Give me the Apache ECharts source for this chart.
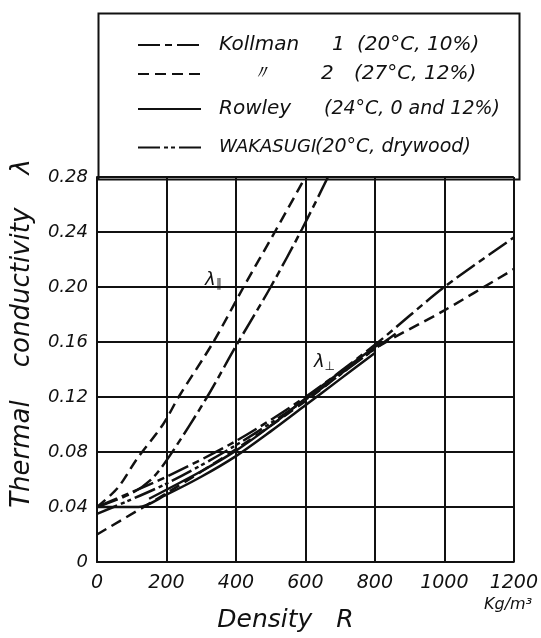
<!DOCTYPE html>
<html>
<head>
<meta charset="utf-8">
<script src="https://cdn.jsdelivr.net/npm/echarts@6/dist/echarts.min.js"></script>
<style>
html,body{margin:0;padding:0;background:#fff;}
#c{width:541px;height:638px;}
</style>
</head>
<body>
<div id="c"></div>
<script>
// ---- data ----
const xTicks = [0, 200, 400, 600, 800, 1000, 1200];
const yTicks = [0, 0.04, 0.08, 0.12, 0.16, 0.20, 0.24, 0.28];
const yTickLabels = ['0', '0.04', '0.08', '0.12', '0.16', '0.20', '0.24', '0.28'];

// Kollman 1 (dash-dot)
const kollman1Par = [[0,0.04],[100,0.05],[160,0.061],[214,0.079],[317,0.12],[400,0.157],[500,0.2],[590,0.242],[665,0.28]];
const kollman1Perp = [[0,0.04],[200,0.062],[400,0.088],[600,0.12],[800,0.158],[1000,0.2],[1200,0.236]];
// Kollman 2 (dashed)
const kollman2Par = [[0,0.04],[60,0.054],[115,0.075],[190,0.10],[235,0.12],[335,0.16],[422,0.20],[512,0.24],[600,0.28]];
const kollman2Perp = [[0,0.02],[200,0.05],[400,0.082],[600,0.117],[800,0.155],[1000,0.183],[1200,0.213]];
// Rowley (solid)
const rowleyA = [[0,0.04],[120,0.04],[200,0.049],[300,0.062],[400,0.077],[500,0.095],[600,0.114],[700,0.133],[800,0.152]];
const rowleyB = [[150,0.046],[300,0.066],[400,0.081],[500,0.099],[600,0.119],[700,0.138],[820,0.16]];
// WAKASUGI (dash-dot-dot)
const wakasugi = [[0,0.035],[200,0.057],[400,0.085],[600,0.118],[800,0.155],[860,0.166]];

const legendNames = ['Kollman 1', 'Kollman 2', 'Rowley', 'WAKASUGI'];

// ---- chart ----
const chart = echarts.init(document.getElementById('c'), null, {renderer: 'canvas'});
const FONT = 'DejaVu Sans';
const black = '#111';
const dashDot = [22, 5, 7, 5];
const dashed = [11, 6];
const dashDotDot = [22, 4, 4, 3, 4, 4];

function lineSeries(name, data, dash) {
  return {
    name: name, type: 'line', data: data, symbol: 'none', smooth: 0.3,
    lineStyle: {color: black, width: 2.5, type: dash},
    itemStyle: {color: black},
    z: 3
  };
}

const legendRows = [
  {name: legendNames[0], top: 30, parts: '{a|Kollman}{b|1}{c|(20°C, 10%)}'},
  {name: legendNames[1], top: 59, parts: '{d|〃}{e|2}{f|(27°C, 12%)}'},
  {name: legendNames[2], top: 94, parts: '{g|Rowley}{h|(24°C, 0 and 12%)}'},
  {name: legendNames[3], top: 133, parts: '{i|WAKASUGI}{j|(20°C, drywood)}'}
];
const rich = {
  a: {width: 113}, b: {width: 25}, c: {},
  d: {width: 70, padding: [0,0,0,32]}, e: {width: 33}, f: {},
  g: {width: 105}, h: {},
  i: {width: 96}, j: {}
};
Object.keys(rich).forEach(k => { rich[k].fontFamily = FONT; rich[k].fontStyle = 'italic'; rich[k].fontSize = 20; rich[k].color = black; });
rich.h.fontSize = 19; rich.j.fontSize = 19; rich.i.fontSize = 18;

const option = {
  animation: false,
  backgroundColor: '#fff',
  grid: {left: 97, right: 24, top: 177, bottom: 69, show: false},
  legend: legendRows.map(r => ({
    data: [r.name], left: 132, top: r.top, orient: 'vertical',
    itemWidth: 63, itemHeight: 20, selectedMode: false,
    itemStyle: {opacity: 0, borderWidth: 0, color: 'transparent'},
    formatter: () => r.parts,
    textStyle: {rich: rich, padding: [0,0,0,13]}
  })),
  xAxis: {
    type: 'value', min: 0, max: 1200, interval: 200,
    name: 'Density   R', nameLocation: 'middle', nameGap: 46,
    nameTextStyle: {fontFamily: FONT, fontStyle: 'italic', fontSize: 25, color: black, padding: [0,40,0,0]},
    axisLine: {show: true, lineStyle: {color: black, width: 2}},
    axisTick: {show: false},
    axisLabel: {fontFamily: FONT, fontStyle: 'italic', fontSize: 19, color: black, margin: 12,
      formatter: v => xTicks.indexOf(v) >= 0 ? String(v) : ''},
    splitLine: {show: true, lineStyle: {color: black, width: 2}}
  },
  yAxis: {
    type: 'value', min: 0, max: 0.28, interval: 0.04,
    name: 'Thermal    conductivity    λ', nameLocation: 'middle', nameGap: 62, nameRotate: 90,
    nameTextStyle: {fontFamily: FONT, fontStyle: 'italic', fontSize: 26, color: black, padding: [0,0,0,72]},
    axisLine: {show: true, lineStyle: {color: black, width: 2}},
    axisTick: {show: false},
    axisLabel: {fontFamily: FONT, fontStyle: 'italic', fontSize: 18, color: black, margin: 9,
      formatter: v => { const i = yTicks.findIndex(t => Math.abs(t - v) < 1e-9); return i >= 0 ? yTickLabels[i] : ''; }},
    splitLine: {show: true, lineStyle: {color: black, width: 2}}
  },
  graphic: [
    {type: 'rect', left: 96, top: 11, shape: {width: 421, height: 166}, style: {fill: 'none', stroke: black, lineWidth: 2}, z: 10},
    {type: 'text', left: 484, top: 597, style: {text: 'Kg/m³', fontFamily: FONT, fontStyle: 'italic', fontSize: 16, fill: black}}
  ],
  series: [
    lineSeries(legendNames[0], kollman1Par, dashDot),
    lineSeries(legendNames[0], kollman1Perp, dashDot),
    lineSeries(legendNames[1], kollman2Par, dashed),
    lineSeries(legendNames[1], kollman2Perp, dashed),
    lineSeries(legendNames[2], rowleyA, 'solid'),
    lineSeries(legendNames[2], rowleyB, 'solid'),
    lineSeries(legendNames[3], wakasugi, dashDotDot),
    {
      type: 'scatter', data: [], silent: true,
      markPoint: {
        symbol: 'circle', symbolSize: 0,
        label: {show: true, color: black, fontFamily: FONT, fontStyle: 'italic', fontSize: 18, rich: {s: {fontSize: 12, fontFamily: FONT, fontStyle: 'italic', padding: [8,0,0,0]}}},
        data: [
          {coord: [335, 0.205], value: 'λ∥', label: {formatter: 'λ{s|∥}'}},
          {coord: [655, 0.145], value: 'λ⊥', label: {formatter: 'λ{s|⊥}'}}
        ]
      }
    }
  ]
};
chart.setOption(option);
</script>
</body>
</html>
